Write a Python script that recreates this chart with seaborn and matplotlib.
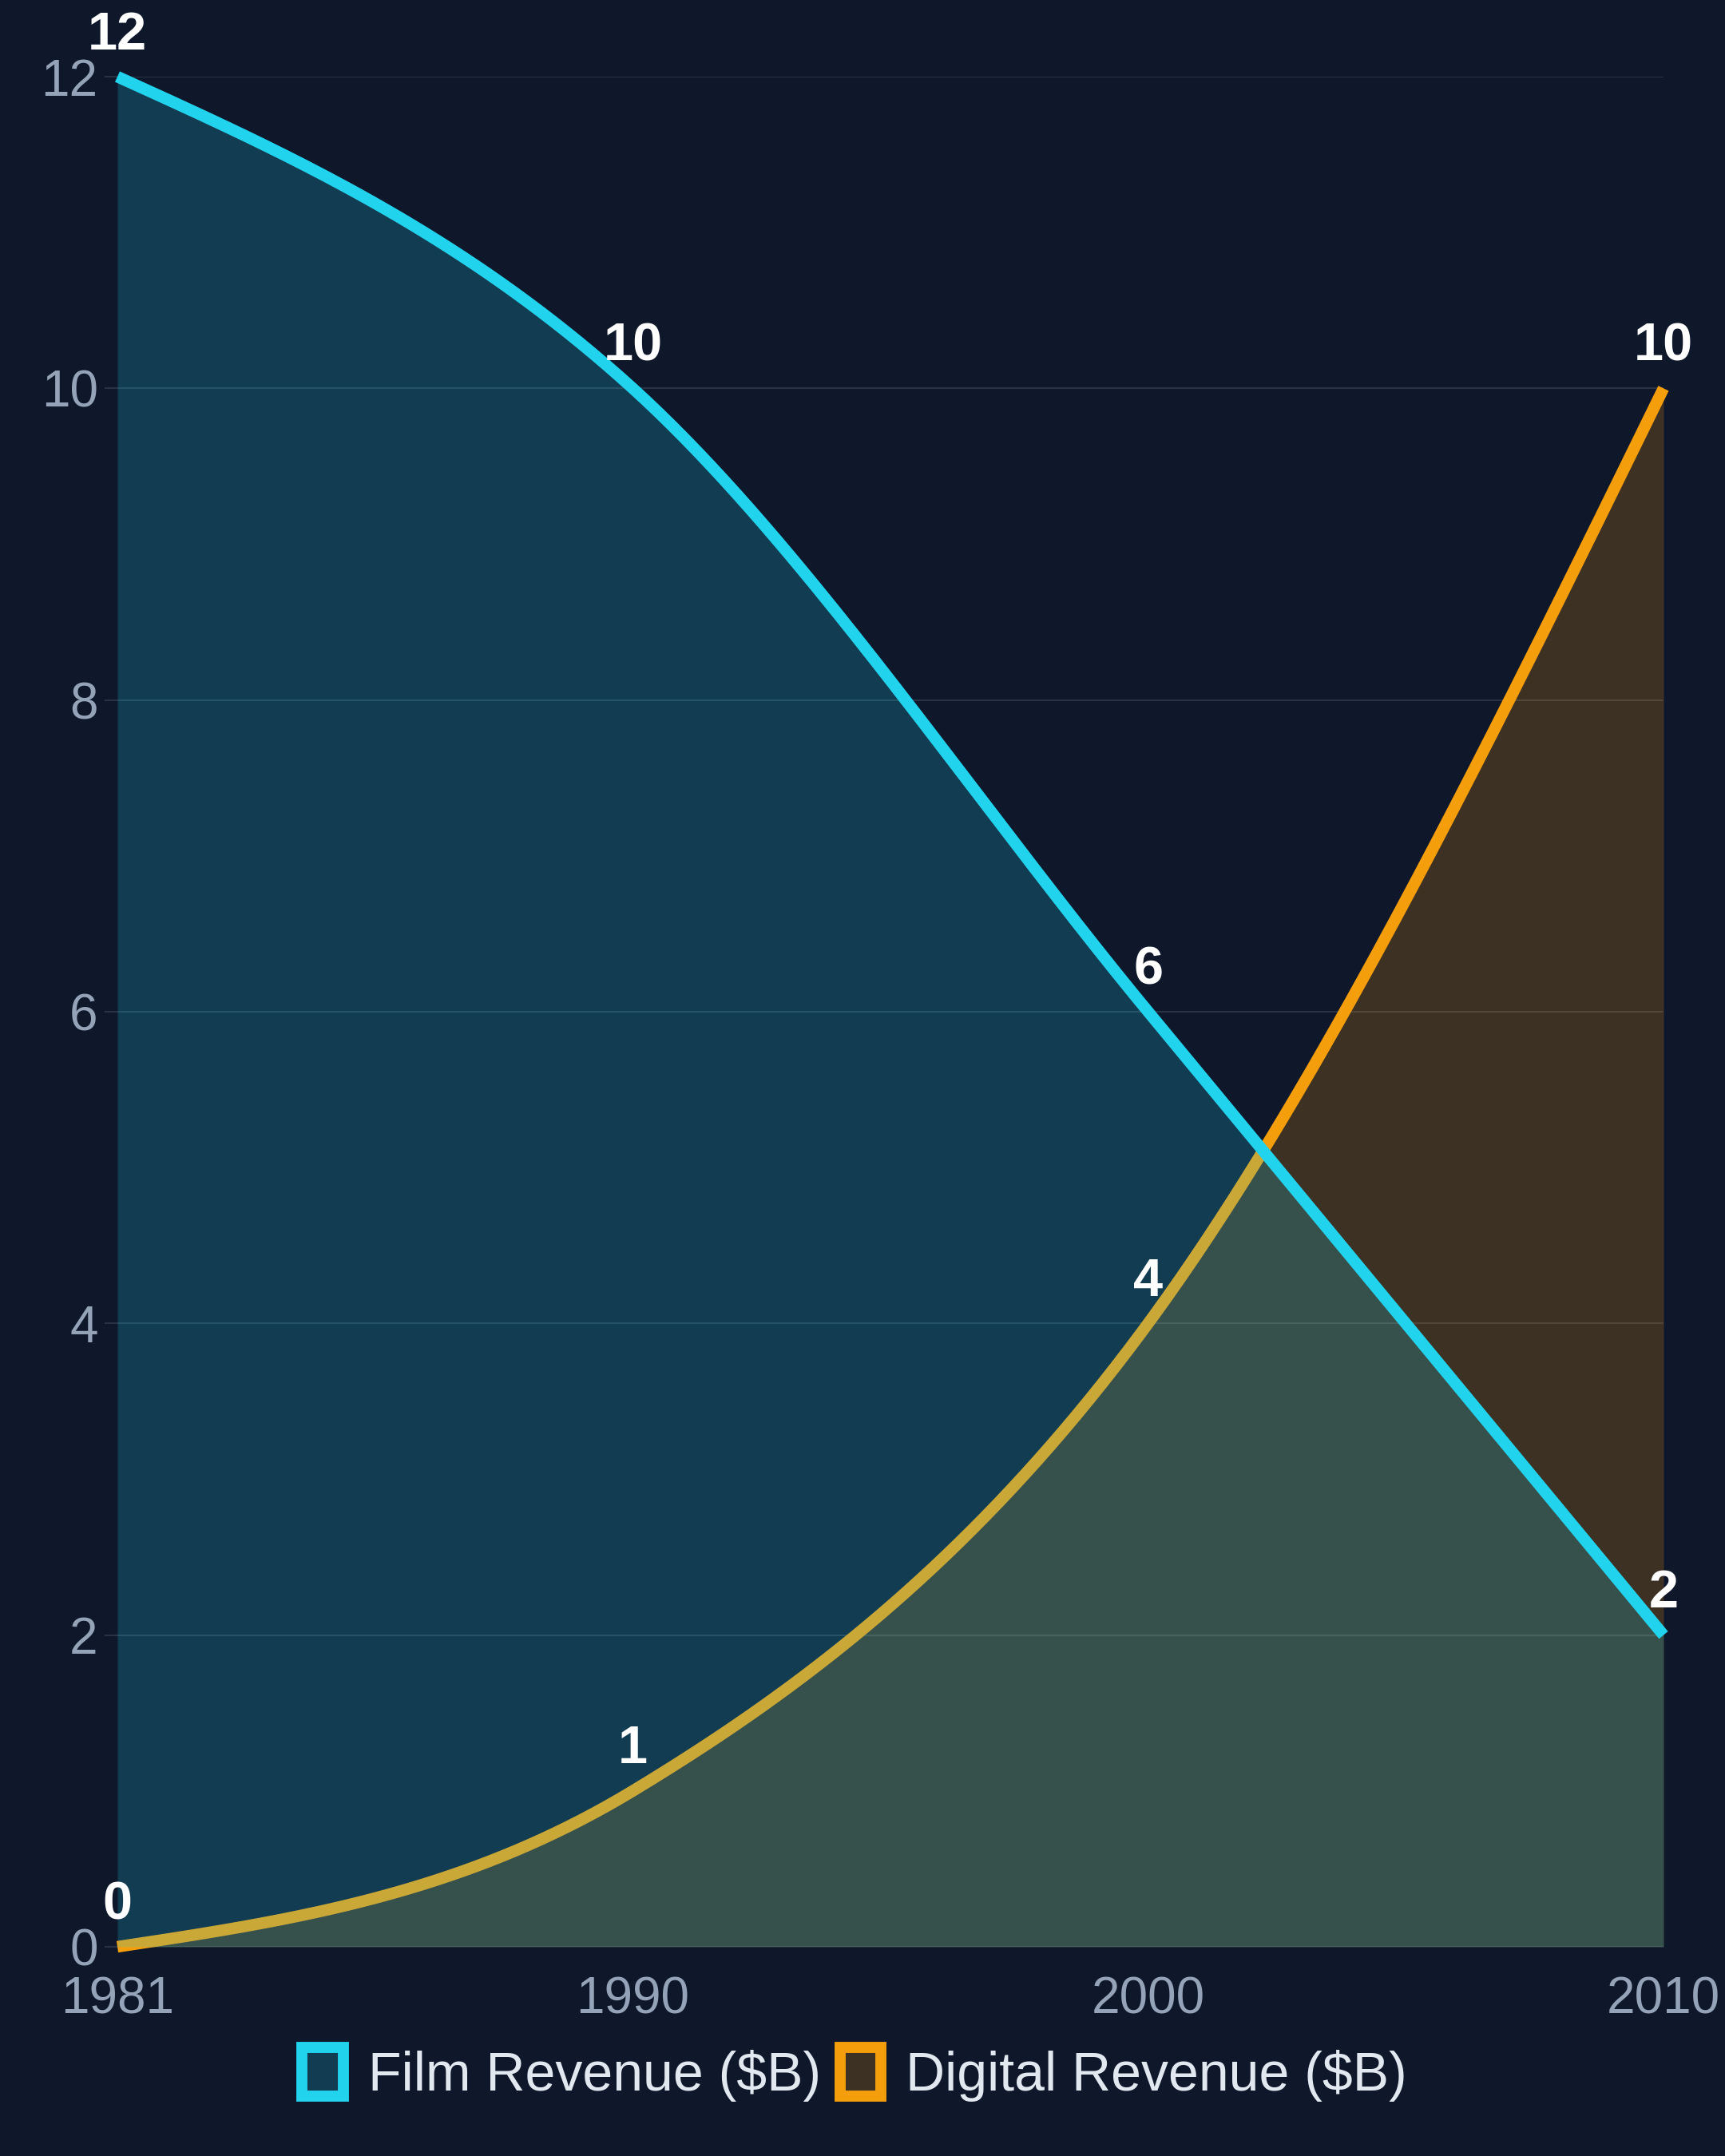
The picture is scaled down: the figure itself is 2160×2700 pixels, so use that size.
import numpy as np
import pandas as pd
import seaborn as sns
import matplotlib.pyplot as plt
from matplotlib.patches import Patch
from matplotlib.colors import to_rgba

# data
years = ["1981", "1990", "2000", "2010"]
film = [12, 10, 6, 2]
digital = [0, 1, 4, 10]

BG = "#0f172a"
CYAN = "#22d3ee"
ORANGE = "#f59e0b"
GRID = "#283245"
TICK = "#94a3b8"
TEXT = "#e2e8f0"


# monotone-x cubic (same shape as d3.curveMonotoneX) for the smooth lines
def smooth(vals, n=80):
    y = np.asarray(vals, float)
    s = np.diff(y)
    m = np.zeros_like(y)
    for i in range(1, len(y) - 1):
        p = (s[i - 1] + s[i]) / 2
        m[i] = (np.sign(s[i - 1]) + np.sign(s[i])) * min(abs(s[i - 1]), abs(s[i]), 0.5 * abs(p))
    m[0] = (3 * s[0] - m[1]) / 2
    m[-1] = (3 * s[-1] - m[-2]) / 2
    xs, ys = [], []
    t = np.linspace(0, 1, n)
    for i in range(len(y) - 1):
        h00 = 2 * t**3 - 3 * t**2 + 1
        h10 = t**3 - 2 * t**2 + t
        h01 = -2 * t**3 + 3 * t**2
        h11 = t**3 - t**2
        xs.append(i + t)
        ys.append(h00 * y[i] + h10 * m[i] + h01 * y[i + 1] + h11 * m[i + 1])
    return np.concatenate(xs), np.concatenate(ys)


fx, fy = smooth(film)
dx, dy = smooth(digital)
df_film = pd.DataFrame({"x": fx, "y": fy})
df_dig = pd.DataFrame({"x": dx, "y": dy})

sns.set_theme(style="dark")
plt.rcParams["font.family"] = ["Liberation Sans", "DejaVu Sans"]

fig = plt.figure(figsize=(21.6, 27), dpi=100, facecolor=BG)
ax = fig.add_axes([147 / 2160, 1 - 2438 / 2700, (2083 - 147) / 2160, (2438 - 96) / 2700])
ax.set_facecolor(BG)

# digital below, film fill over it (gives the yellowish line under the blue area)
ax.fill_between(dx, dy, 0, color=ORANGE, alpha=0.2, lw=0, zorder=1)
sns.lineplot(data=df_dig, x="x", y="y", sort=False, estimator=None, color=ORANGE,
             linewidth=10.5, solid_capstyle="butt", ax=ax, zorder=2, clip_on=False)
ax.fill_between(fx, fy, 0, color=CYAN, alpha=0.2, lw=0, zorder=3)
sns.lineplot(data=df_film, x="x", y="y", sort=False, estimator=None, color=CYAN,
             linewidth=10.5, solid_capstyle="butt", ax=ax, zorder=4, clip_on=False)

for series in (film, digital):
    for i, v in enumerate(series):
        ax.annotate(str(v), (i, v), xytext=(0, 37), textcoords="offset points",
                    ha="center", va="center", fontsize=48, fontweight="bold",
                    color="white", zorder=6, annotation_clip=False)

ax.set_xlim(0, 3)
ax.set_ylim(0, 12)
ax.set_xticks(range(len(years)), years)
ax.set_yticks(range(0, 13, 2))
ax.set_xlabel("")
ax.set_ylabel("")
ax.tick_params(axis="x", length=0, pad=26, labelsize=46, labelcolor=TICK)
ax.tick_params(axis="y", length=11.5, width=1.5, color=GRID, pad=6, labelsize=46, labelcolor=TICK, left=True)
ax.yaxis.grid(True, color=GRID, lw=1.5, zorder=0)
ax.xaxis.grid(False)
ax.set_axisbelow(True)
for sp in ax.spines.values():
    sp.set_visible(False)

handles = [
    Patch(facecolor=to_rgba(CYAN, 0.2), edgecolor=CYAN, lw=10, label="Film Revenue ($B)"),
    Patch(facecolor=to_rgba(ORANGE, 0.2), edgecolor=ORANGE, lw=10, label="Digital Revenue ($B)"),
]
fig.legend(handles=handles, loc="center", bbox_to_anchor=(1070 / 2160, 1 - 2598 / 2700),
           ncol=2, frameon=False, fontsize=49, labelcolor=TEXT,
           handlelength=0.76, handleheight=1.0, handletextpad=0.45, columnspacing=0.35)

fig.savefig("out.png", dpi=100, facecolor=BG)
